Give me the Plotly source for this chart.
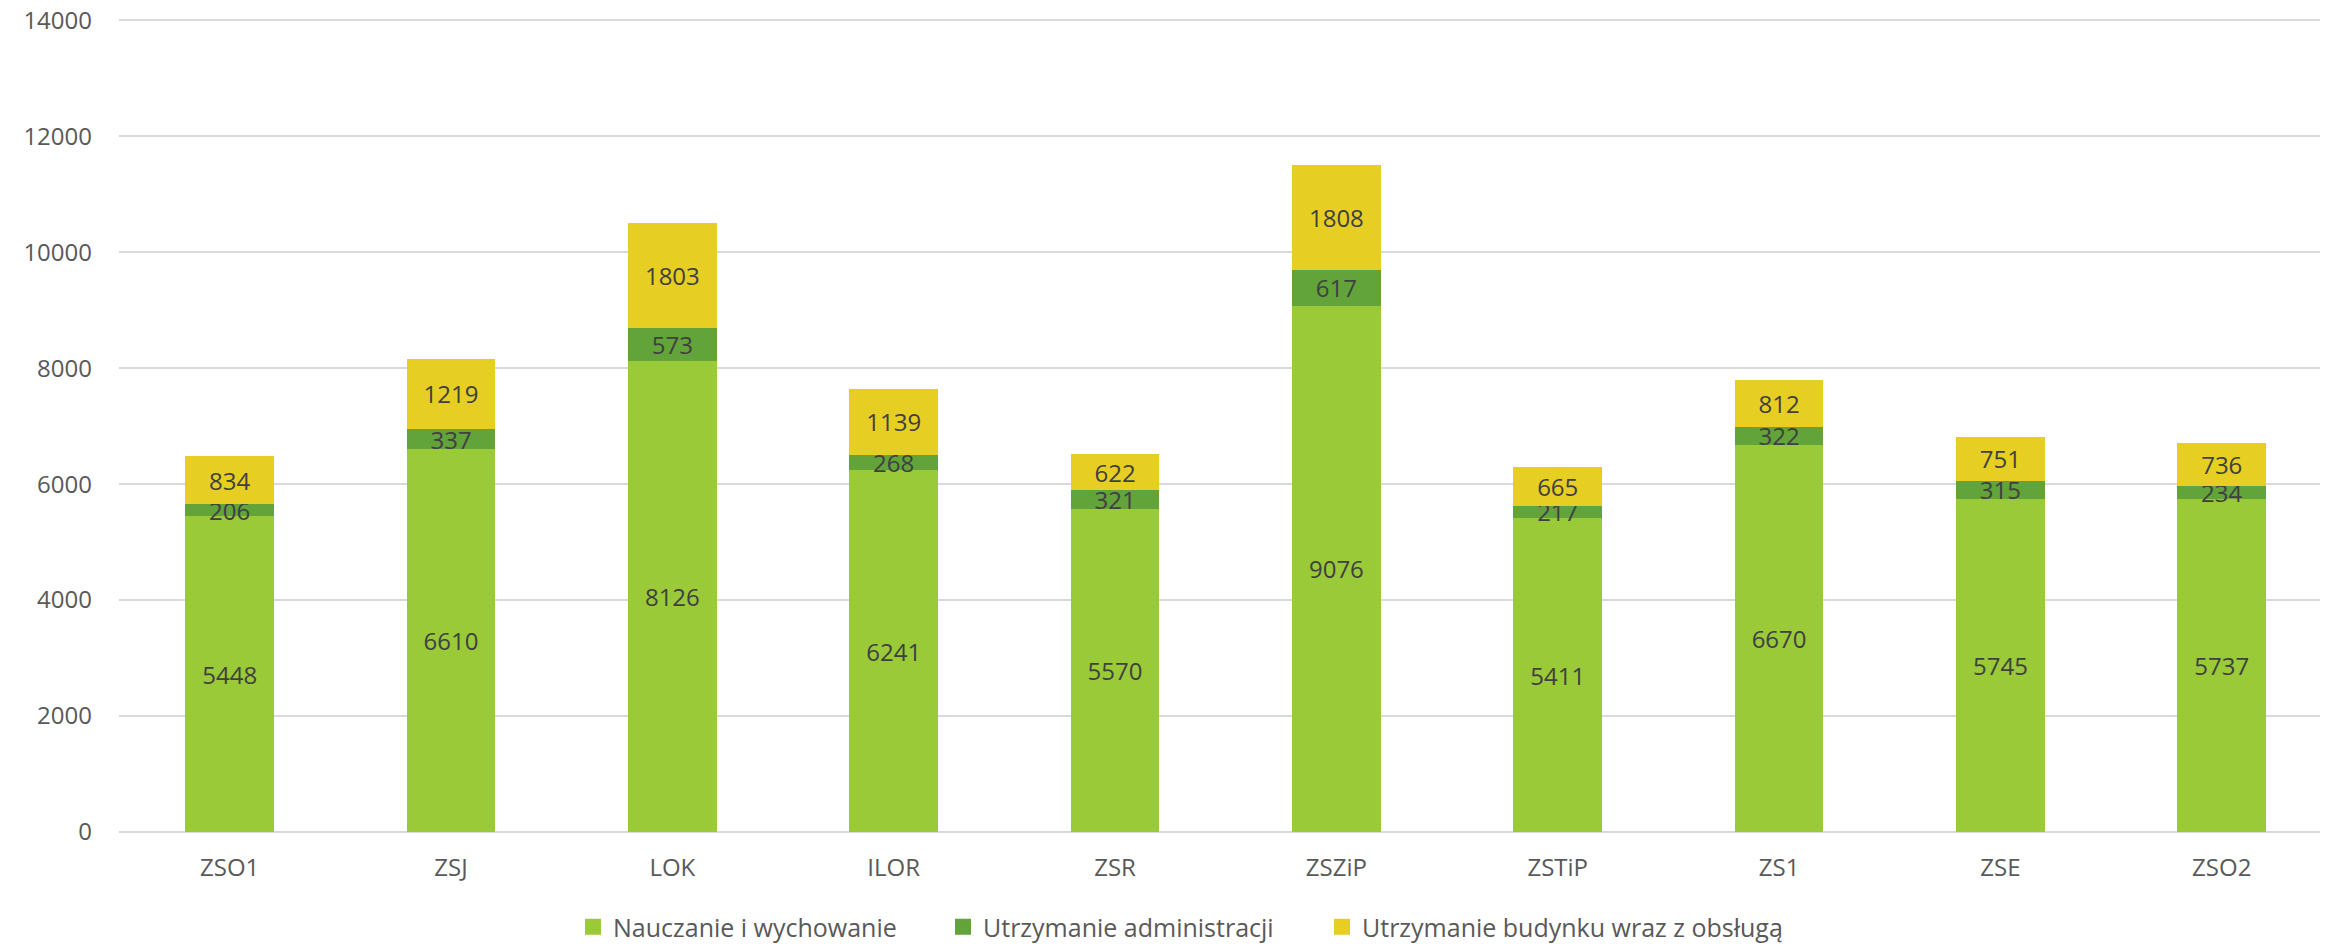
import plotly.graph_objects as go

categories = ["ZSO1", "ZSJ", "LOK", "ILOR", "ZSR", "ZSZiP", "ZSTiP", "ZS1", "ZSE", "ZSO2"]
nauczanie = [5448, 6610, 8126, 6241, 5570, 9076, 5411, 6670, 5745, 5737]
administracja = [206, 337, 573, 268, 321, 617, 217, 322, 315, 234]
budynek = [834, 1219, 1803, 1139, 622, 1808, 665, 812, 751, 736]
y_ticks = [0, 2000, 4000, 6000, 8000, 10000, 12000, 14000]

series = [
    ("Nauczanie i wychowanie", nauczanie, "#9ACA38"),
    ("Utrzymanie administracji", administracja, "#62A33A"),
    ("Utrzymanie budynku wraz z obsługą", budynek, "#E6CF22"),
]
legend_ids = ["legend", "legend2", "legend3"]
legend_x = [565, 935, 1314]

FONT = "Open Sans"
fig = go.Figure()
for name, vals, color in series:
    fig.add_trace(go.Bar(
        name=name, x=categories, y=vals,
        marker=dict(color=color, line=dict(width=0)),
        text=[str(v) for v in vals],
        textposition="inside", insidetextanchor="middle",
        textangle=0,
        textfont=dict(family=FONT, size=24, color="#404040"),
        cliponaxis=False, showlegend=False, legendgroup=name,
    ))
for (name, vals, color), lid in zip(series, legend_ids):
    fig.add_trace(go.Scatter(
        name=name, x=[None], y=[None], mode="markers",
        marker=dict(symbol="square", size=16, color=color, line=dict(width=0)),
        showlegend=True, legendgroup=name, legend=lid, hoverinfo="skip",
    ))

legend_common = dict(
    orientation="h", xanchor="left",
    xref="container", yref="container", y=1 - 919 / 936, yanchor="middle",
    font=dict(family=FONT, size=25, color="#595959"),
    itemwidth=30, itemsizing="trace", bgcolor="rgba(0,0,0,0)",
)
fig.update_layout(
    barmode="stack",
    bargap=0.6,
    width=2320, height=936,
    margin=dict(l=111, r=0, t=10, b=112, autoexpand=False),
    paper_bgcolor="white", plot_bgcolor="white",
    font=dict(family=FONT, size=24, color="#595959"),
    uniformtext=dict(mode="show", minsize=24),
    legend=dict(x=legend_x[0] / 2320, **legend_common),
    legend2=dict(x=legend_x[1] / 2320, **legend_common),
    legend3=dict(x=legend_x[2] / 2320, **legend_common),
    showlegend=True,
)
fig.update_xaxes(
    range=[-0.5, 9.48], showgrid=False, zeroline=False, showline=False,
    ticks="", ticklabelstandoff=19,
    tickfont=dict(family=FONT, size=24, color="#595959"),
)
fig.update_yaxes(
    range=[0, 14040], tickmode="array", tickvals=y_ticks,
    ticktext=[str(v) for v in y_ticks], ticklabeloverflow="allow",
    showgrid=True, gridcolor="#D9D9D9", gridwidth=2,
    zeroline=True, zerolinecolor="#D9D9D9", zerolinewidth=2,
    showline=False, ticks="", ticklabelstandoff=26,
    tickfont=dict(family=FONT, size=24, color="#595959"),
)

fig.write_html("out.html")
